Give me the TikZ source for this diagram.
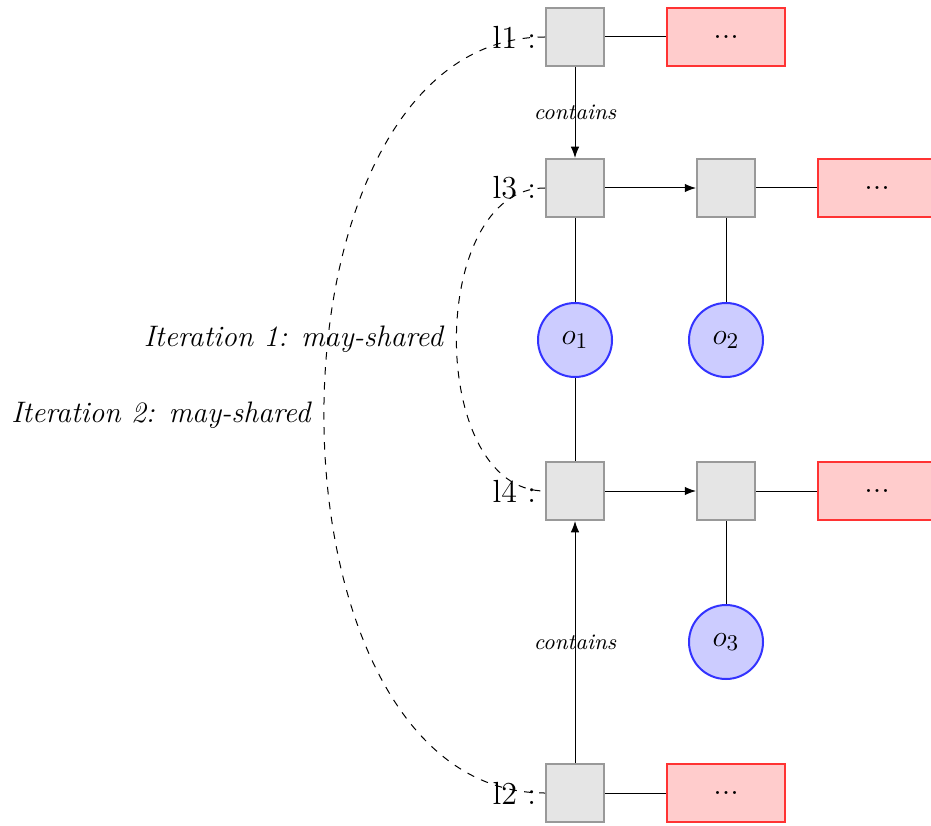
\documentclass[tikz,border=0pt]{standalone}
\usetikzlibrary{arrows.meta}
\begin{document}
\begin{tikzpicture}[x=0.4pt,y=-0.4pt]
\tikzset{
  cell/.style={draw=gray!80, fill=gray!20, thick, minimum size=23.2pt, inner sep=0pt},
  rest/.style={draw=red!80, fill=red!20, thick, minimum width=47.2pt, minimum height=23.2pt, inner sep=0pt, font=\fontsize{12.5}{15}\selectfont},
  obj/.style={circle, draw=blue!80, fill=blue!20, thick, minimum size=29.6pt, inner sep=0pt, font=\fontsize{12.5}{15}\selectfont},
  loc/.style={label={[font=\fontsize{12.8}{15}\selectfont]left:{#1}}},
  link/.style={-{Latex[length=4.5pt,width=3.4pt]}},
  share/.style={dashed, out=180, in=180},
  rel/.style={midway, font=\fontsize{8.9}{10}\selectfont\itshape},
  iter/.style={midway, left, inner sep=5.2pt, font=\fontsize{11.85}{14}\selectfont\itshape}
}
\useasboundingbox (0,0) rectangle (931,825);

% heap cells
\node[cell, loc={l1 :}] (a1) at (575,37) {};
\node[rest] (r1) at (726,37) {{.}{.}{.}};
\node[cell, loc={l3 :}] (a3) at (575,188) {};
\node[cell] (b3) at (726,188) {};
\node[rest] (r3) at (877,188) {{.}{.}{.}};
\node[obj] (o1) at (575,340) {$o_1$};
\node[obj] (o2) at (726,340) {$o_2$};
\node[cell, loc={l4 :}] (a4) at (575,491) {};
\node[cell] (b4) at (726,491) {};
\node[rest] (r4) at (877,491) {{.}{.}{.}};
\node[obj] (o3) at (726,642) {$o_3$};
\node[cell, loc={l2 :}] (a2) at (575,793) {};
\node[rest] (r2) at (726,793) {{.}{.}{.}};

% structure links
\draw[link] (a1) -- node[rel] {contains} (a3);
\draw (a1) -- (r1);
\draw[link] (a3) -- (b3);
\draw (b3) -- (r3);
\draw (a3) -- (o1);
\draw (o1) -- (a4);
\draw (b3) -- (o2);
\draw[link] (a4) -- (b4);
\draw (b4) -- (r4);
\draw (b4) -- (o3);
\draw[link] (a2) -- node[rel] {contains} (a4);
\draw (a2) -- (r2);

% sharing relations
\draw[share] (a3.west) to node[iter] {Iteration 1: may-shared} (a4.west);
\draw[share] (a1.west) to node[iter] {Iteration 2: may-shared} (a2.west);
\end{tikzpicture}
\end{document}
